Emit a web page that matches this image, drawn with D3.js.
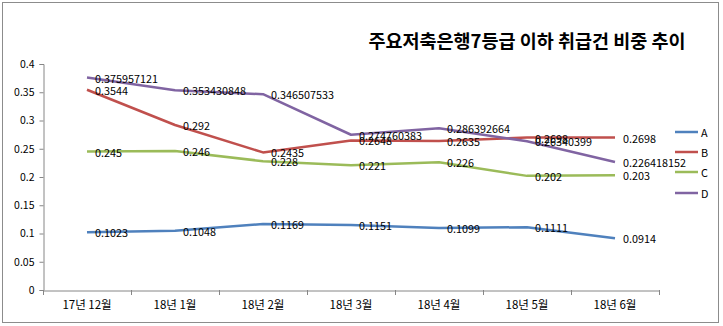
<!DOCTYPE html>
<html><head><meta charset="utf-8">
<script src="https://cdn.jsdelivr.net/npm/d3@7"></script>
<style>
body{margin:0;background:#fff;}
text{font-family:"Noto Sans CJK KR","Noto Sans",sans-serif;fill:#000;}
</style></head>
<body><svg id="c" width="723" height="326"></svg>
<script>
const title = "주요저축은행7등급 이하 취급건 비중 추이";
const categories = ["17년 12월","18년 1월","18년 2월","18년 3월","18년 4월","18년 5월","18년 6월"];
const seriesNames = ["A","B","C","D"];
const valuesA = [0.1023,0.1048,0.1169,0.1151,0.1099,0.1111,0.0914];
const valuesB = [0.3544,0.292,0.2435,0.2648,0.2635,0.2698,0.2698];
const valuesC = [0.245,0.246,0.228,0.221,0.226,0.202,0.203];
const valuesD = [0.375957121,0.353430848,0.346507533,0.274760383,0.286392664,0.26340399,0.226418152];
const labelsD = ["0.375957121","0.353430848","0.346507533","0.274760383","0.286392664","0.26340399","0.226418152"];
const yTicks = [0,0.05,0.1,0.15,0.2,0.25,0.3,0.35,0.4];
const colors = ["#4F81BD","#C0504D","#9BBB59","#8064A2"];

const series = [
  {name:"A", values:valuesA, labels:valuesA.map(String)},
  {name:"B", values:valuesB, labels:valuesB.map(String)},
  {name:"C", values:valuesC, labels:valuesC.map(String)},
  {name:"D", values:valuesD, labels:labelsD}
];

const svg = d3.select("#c");
svg.append("rect").attr("x",2.5).attr("y",2.5).attr("width",716).attr("height",320)
  .attr("fill","#fff").attr("stroke","#8c8c8c").attr("stroke-width",1);

svg.append("text").attr("x",527).attr("y",40).attr("text-anchor","middle")
  .attr("dominant-baseline","central").style("font-size","18.5px").style("font-weight","bold").text(title);

const x = d3.scaleBand().domain(categories).range([43,659]);
const y = d3.scaleLinear().domain([0,0.4]).range([290,64]);

// y axis
const yAxis = svg.append("g").attr("transform","translate(43.5,0)")
  .call(d3.axisLeft(y).tickValues(yTicks).tickSize(4).tickPadding(5).tickFormat(d=>String(d)));
yAxis.selectAll("path,line").attr("stroke","#868686");
yAxis.selectAll("text").style("font-size","10.5px");

// x axis
const xAxis = svg.append("g").attr("transform","translate(0,290.5)")
  .call(d3.axisBottom(x).tickSize(0).tickPadding(10).tickSizeOuter(0));
xAxis.select("path").attr("stroke","#868686");
xAxis.selectAll("text").style("font-size","11.5px");
const bounds = categories.map(c=>x(c)).concat([x(categories[categories.length-1])+x.bandwidth()]);
svg.append("g").selectAll("line").data(bounds).join("line")
  .attr("x1",d=>Math.round(d)+0.5).attr("x2",d=>Math.round(d)+0.5)
  .attr("y1",290).attr("y2",295).attr("stroke","#868686");

const line = d3.line().x((d,i)=>x(categories[i])+x.bandwidth()/2).y(d=>y(d));
series.forEach((s,k)=>{
  svg.append("path").datum(s.values).attr("d",line).attr("fill","none")
    .attr("stroke",colors[k]).attr("stroke-width",2.5).attr("stroke-linejoin","round");
});
series.forEach((s,k)=>{
  svg.append("g").selectAll("text").data(s.values).join("text")
    .attr("x",(d,i)=>x(categories[i])+x.bandwidth()/2+8)
    .attr("y",d=>y(d)).attr("dominant-baseline","central")
    .style("font-size","10.8px").text((d,i)=>s.labels[i]);
});

// legend
const legY = [132,152,172,193];
seriesNames.forEach((n,k)=>{
  svg.append("line").attr("x1",675).attr("x2",698).attr("y1",legY[k]).attr("y2",legY[k])
    .attr("stroke",colors[k]).attr("stroke-width",2.5);
  svg.append("text").attr("x",701).attr("y",legY[k]).attr("dominant-baseline","central")
    .style("font-size","10.8px").text(n);
});
</script></body></html>
